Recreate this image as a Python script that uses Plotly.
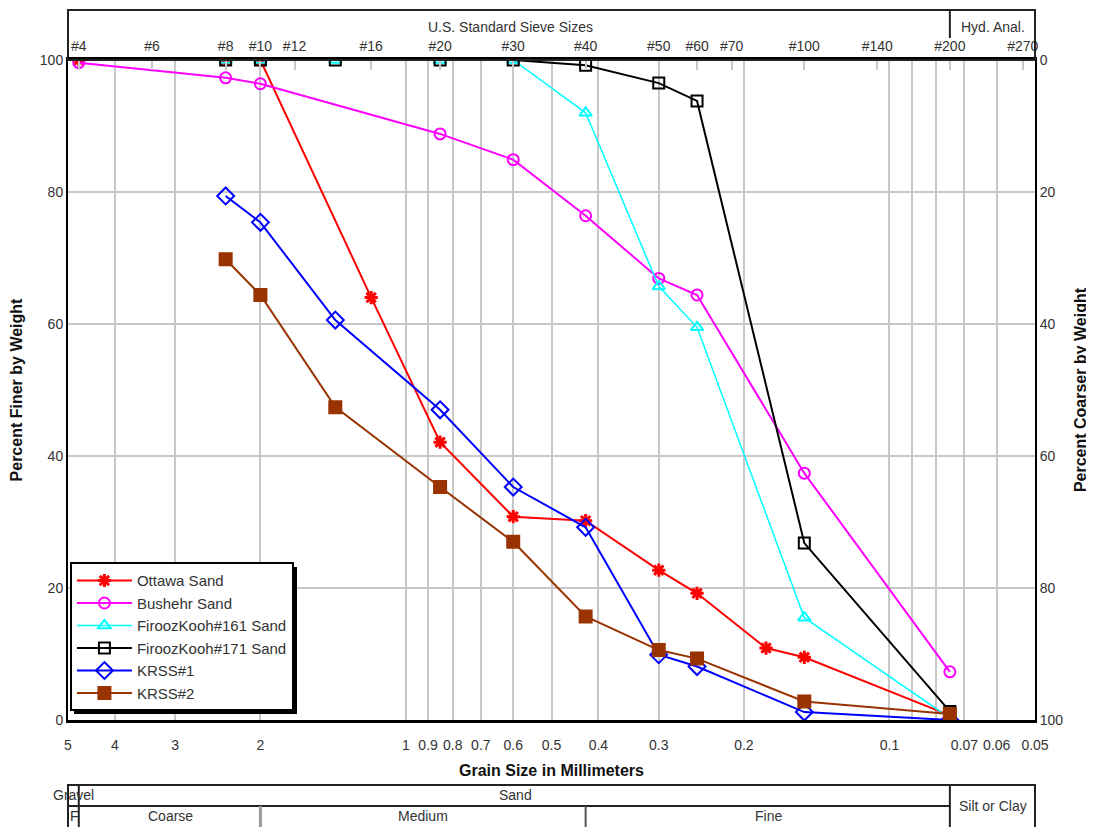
import numpy as np
import plotly.graph_objects as go

# ---------------- data ----------------
sieve_labels = ["#4", "#6", "#8", "#10", "#12", "#16", "#20", "#30", "#40", "#50",
                "#60", "#70", "#100", "#140", "#200", "#270"]
sieve_mm = [4.75, 3.35, 2.36, 2.0, 1.7, 1.18, 0.85, 0.6, 0.425, 0.3,
            0.25, 0.212, 0.15, 0.106, 0.075, 0.053]

x_tick_vals = [5, 4, 3, 2, 1, 0.9, 0.8, 0.7, 0.6, 0.5, 0.4, 0.3, 0.2, 0.1, 0.09, 0.08, 0.07, 0.06, 0.05]
x_tick_text = ["5", "4", "3", "2", "1", "0.9", "0.8", "0.7", "0.6", "0.5", "0.4", "0.3", "0.2", "0.1",
               "", "", "0.07", "0.06", "0.05"]
y_tick_vals = [0, 20, 40, 60, 80, 100]

ottawa_d = [4.75, 2.36, 2.0, 1.18, 0.85, 0.6, 0.425, 0.3, 0.25, 0.18, 0.15, 0.075]
ottawa_p = [100, 100, 100, 64.0, 42.1, 30.8, 30.2, 22.7, 19.2, 10.9, 9.5, 0.7]

bushehr_d = [4.75, 2.36, 2.0, 0.85, 0.6, 0.425, 0.3, 0.25, 0.15, 0.075]
bushehr_p = [99.6, 97.3, 96.4, 88.8, 84.9, 76.4, 66.9, 64.4, 37.4, 7.3]

fk161_d = [2.36, 2.0, 1.4, 0.85, 0.6, 0.425, 0.3, 0.25, 0.15, 0.075]
fk161_p = [100, 100, 100, 100, 100, 92.0, 65.7, 59.5, 15.5, 0.3]

fk171_d = [2.36, 2.0, 1.4, 0.85, 0.6, 0.425, 0.3, 0.25, 0.15, 0.075]
fk171_p = [100, 100, 100, 100, 100, 99.2, 96.5, 93.8, 26.8, 1.3]

krss1_d = [2.36, 2.0, 1.4, 0.85, 0.6, 0.425, 0.3, 0.25, 0.15, 0.075]
krss1_p = [79.4, 75.4, 60.6, 47.0, 35.3, 29.2, 9.9, 8.1, 1.2, 0.0]

krss2_d = [2.36, 2.0, 1.4, 0.85, 0.6, 0.425, 0.3, 0.25, 0.15, 0.075]
krss2_p = [69.8, 64.4, 47.4, 35.3, 27.0, 15.7, 10.6, 9.3, 2.8, 0.9]

FONT = "Liberation Sans Narrow, Liberation Sans, Arial, sans-serif"
GRID = "#c8c8c8"
TXT = "#333333"

fig = go.Figure()

series = [
    ("Ottawa Sand", ottawa_d, ottawa_p, "#ff0000", "asterisk-open", 11, 2, 3),
    ("Bushehr Sand", bushehr_d, bushehr_p, "#ff00ff", "circle-open", 11, 2, 2),
    ("FiroozKooh#161 Sand", fk161_d, fk161_p, "#00ffff", "triangle-up-open", 11, 1.5, 2),
    ("FiroozKooh#171 Sand", fk171_d, fk171_p, "#000000", "square-open", 11, 2, 2),
    ("KRSS#1", krss1_d, krss1_p, "#0000ff", "diamond-open", 13, 2, 2),
    ("KRSS#2", krss2_d, krss2_p, "#993300", "square", 12, 2, 2),
]
for name, d, p, col, sym, size, lw, mlw in series:
    fig.add_trace(go.Scatter(
        x=d, y=p, name=name, mode="lines+markers",
        line=dict(color=col, width=lw),
        marker=dict(symbol=sym, size=size, color=col, line=dict(color=col, width=mlw)),
    ))

# invisible helpers to make secondary axes render
fig.add_trace(go.Scatter(x=[5, 0.05], y=[0, 0], xaxis="x2", yaxis="y", mode="markers",
                         marker=dict(opacity=0), showlegend=False, hoverinfo="skip"))
fig.add_trace(go.Scatter(x=[5, 0.05], y=[0, 100], xaxis="x", yaxis="y2", mode="markers",
                         marker=dict(opacity=0), showlegend=False, hoverinfo="skip"))

xr = [np.log10(5), np.log10(0.05)]

# page has an 8px body margin: figure is placed at (8, 8)
W, H = 1086, 819
fig.update_layout(
    width=W, height=H,
    margin=dict(l=60, r=59, t=52, b=107),
    paper_bgcolor="white", plot_bgcolor="white",
    font=dict(family=FONT, size=14, color=TXT),
    xaxis=dict(type="log", range=xr, tickvals=x_tick_vals, ticktext=x_tick_text,
               showgrid=True, gridcolor=GRID, gridwidth=2, showline=True,
               linecolor="black", linewidth=3, ticks="", zeroline=False,
               ticklabelstandoff=10, automargin=False,
               tickfont=dict(size=14, color=TXT),
               title=dict(text="<b>Grain Size in Millimeters</b>", standoff=14,
                          font=dict(size=16, color="#111"))),
    xaxis2=dict(type="log", range=xr, overlaying="x", side="top",
                tickvals=sieve_mm, ticktext=sieve_labels, showgrid=False,
                showline=True, linecolor="black", linewidth=3, automargin=False,
                ticks="inside", ticklen=10, tickcolor=GRID, tickwidth=2,
                tickfont=dict(size=14, color=TXT)),
    yaxis=dict(range=[0, 100], tickvals=y_tick_vals, showgrid=True, gridcolor=GRID,
               gridwidth=2, showline=True, linecolor="black", linewidth=2, ticks="",
               zeroline=False, automargin=False, tickfont=dict(size=14, color=TXT),
               title=dict(text="<b>Percent Finer by Weight</b>", standoff=14,
                          font=dict(size=16, color="#111"))),
    yaxis2=dict(range=[100, 0], overlaying="y", side="right", tickvals=y_tick_vals,
                showgrid=False, showline=True, linecolor="black", linewidth=2, ticks="",
                zeroline=False, automargin=False, tickfont=dict(size=14, color=TXT),
                title=dict(text="<b>Percent Coarser by Weight</b>", standoff=12,
                           font=dict(size=16, color="#111"))),
    legend=dict(x=0.002, y=0.239, xanchor="left", yanchor="top",
                bgcolor="white", bordercolor="black", borderwidth=2,
                font=dict(size=15, color=TXT), tracegroupgap=0, itemwidth=55),
    showlegend=True,
)

# ---------- frame boxes (layout decoration) ----------
# positions given in page pixels of the target, converted to paper coords
def px(xp):
    return (xp - 68) / 967.0

def py(yp):
    return (720 - yp) / 660.0

def dx(d):
    return (np.log10(5) - np.log10(d)) / 2.0

shapes = []
# legend shadow
shapes.append(dict(type="rect", xref="paper", yref="paper", x0=px(74), x1=px(297),
                   y0=py(714), y1=py(567), fillcolor="black", line=dict(width=0), layer="above"))
# top sieve box
shapes.append(dict(type="rect", xref="paper", yref="paper", x0=0, x1=1, y0=1, y1=py(10),
                   line=dict(color="#222", width=2)))
shapes.append(dict(type="line", xref="paper", yref="paper", x0=dx(0.075), x1=dx(0.075),
                   y0=py(10), y1=py(38), line=dict(color="#222", width=2)))
# bottom classification box
yb_top, yb_mid, yb_bot = py(785), py(806), py(840)
shapes.append(dict(type="rect", xref="paper", yref="paper", x0=0, x1=1, y0=yb_bot, y1=yb_top,
                   line=dict(color="#222", width=2)))
shapes.append(dict(type="line", xref="paper", yref="paper", x0=0, x1=dx(0.075), y0=yb_mid, y1=yb_mid,
                   line=dict(color="#222", width=2)))
shapes.append(dict(type="line", xref="paper", yref="paper", x0=dx(4.75), x1=dx(4.75), y0=yb_bot, y1=yb_top,
                   line=dict(color="#222", width=2)))
shapes.append(dict(type="line", xref="paper", yref="paper", x0=dx(0.075), x1=dx(0.075), y0=yb_bot, y1=yb_top,
                   line=dict(color="#222", width=2)))
shapes.append(dict(type="line", xref="paper", yref="paper", x0=dx(2.0), x1=dx(2.0), y0=yb_bot, y1=yb_mid,
                   line=dict(color="#999", width=3)))
shapes.append(dict(type="line", xref="paper", yref="paper", x0=dx(0.425), x1=dx(0.425), y0=yb_bot, y1=yb_mid,
                   line=dict(color="#555", width=2)))
fig.update_layout(shapes=shapes)

ann = [
    ("U.S. Standard Sieve Sizes", px(510), py(27)),
    ("Hyd. Anal.", px(993), py(27)),
    ("Gravel", px(73), py(795)),
    ("Sand", px(515), py(795)),
    ("Silt or Clay", px(993), py(806)),
    ("F", px(74), py(816)),
    ("Coarse", px(170), py(816)),
    ("Medium", px(423), py(816)),
    ("Fine", px(768), py(816)),
]
for t, x, y in ann:
    fig.add_annotation(text=t, x=x, y=y, xref="paper", yref="paper", showarrow=False,
                       xanchor="center", yanchor="middle",
                       font=dict(family=FONT, size=14, color=TXT))

fig.write_html("out.html")
